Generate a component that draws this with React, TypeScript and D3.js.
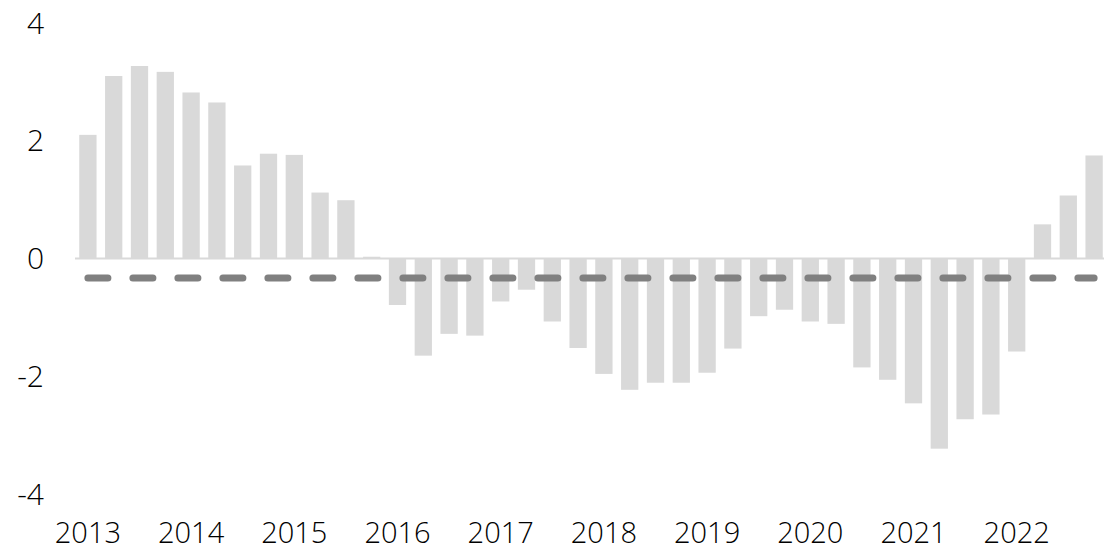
import React, { useEffect, useRef } from "react";
import * as d3 from "d3";

// quarterly values, 2013 Q1 .. 2022 Q4
const quarters: string[] = d3.range(2013, 2023).flatMap((y) => ["Q1", "Q2", "Q3", "Q4"].map((q) => `${y}${q}`));

const values: number[] = [
  2.10, 3.10, 3.27, 3.17, 2.82, 2.65, 1.58, 1.78, 1.76, 1.12, 0.99, 0.03,
  -0.79, -1.65, -1.28, -1.31, -0.73, -0.53, -1.07, -1.52, -1.96, -2.23, -2.11, -2.11,
  -1.94, -1.53, -0.98, -0.87, -1.07, -1.11, -1.85, -2.06, -2.46, -3.23, -2.73, -2.65,
  -1.58, 0.58, 1.07, 1.75,
];

const averageLine = -0.33;

const yTicks: number[] = [-4, -2, 0, 2, 4];
const yearLabels: string[] = d3.range(2013, 2023).map(String);

const W = 1104;
const H = 551;

const App: React.FC = () => {
  const svgRef = useRef<SVGSVGElement | null>(null);

  useEffect(() => {
    if (!svgRef.current) return;
    const svg = d3.select(svgRef.current);
    svg.selectAll("*").remove();

    const font = "'Open Sans', sans-serif";

    const x = d3.scaleBand<string>().domain(quarters).range([75, 1107]).paddingInner(0.33).paddingOuter(0.165);
    const y = d3.scaleLinear().domain([-4, 4]).range([494, 23]);

    // bars
    svg.append("g")
      .selectAll("rect")
      .data(values)
      .join("rect")
      .attr("x", (_, i) => x(quarters[i]) ?? 0)
      .attr("width", x.bandwidth())
      .attr("y", (d) => y(Math.max(0, d)))
      .attr("height", (d) => Math.abs(y(d) - y(0)))
      .attr("fill", "#d9d9d9");

    // zero line
    svg.append("line")
      .attr("x1", 75)
      .attr("x2", W)
      .attr("y1", y(0))
      .attr("y2", y(0))
      .attr("stroke", "#d9d9d9")
      .attr("stroke-width", 2);

    // average dashed line
    const cx = (q: string) => (x(q) ?? 0) + x.bandwidth() / 2;
    svg.append("line")
      .attr("x1", cx(quarters[0]))
      .attr("x2", cx(quarters[quarters.length - 1]))
      .attr("y1", y(averageLine))
      .attr("y2", y(averageLine))
      .attr("stroke", "#808080")
      .attr("stroke-width", 7)
      .attr("stroke-linecap", "round")
      .attr("stroke-dasharray", "20,25");

    // y labels
    svg.append("g")
      .selectAll("text")
      .data(yTicks)
      .join("text")
      .attr("x", 44)
      .attr("y", (d) => y(d))
      .attr("dy", "0.35em")
      .attr("text-anchor", "end")
      .style("font-family", font)
      .style("font-weight", 300)
      .style("font-size", "30px")
      .attr("fill", "#000")
      .text((d) => String(d));

    // x labels (at Q1 of each year)
    svg.append("g")
      .selectAll("text")
      .data(yearLabels)
      .join("text")
      .attr("x", (d) => cx(`${d}Q1`))
      .attr("y", 543)
      .attr("text-anchor", "middle")
      .style("font-family", font)
      .style("font-weight", 300)
      .style("font-size", "29px")
      .attr("fill", "#000")
      .text((d) => d);
  }, []);

  return (
    <div style={{ position: "absolute", left: 0, top: 0, width: W, height: H, background: "#fff" }}>
      <svg ref={svgRef} width={W} height={H}></svg>
    </div>
  );
};

export default App;
